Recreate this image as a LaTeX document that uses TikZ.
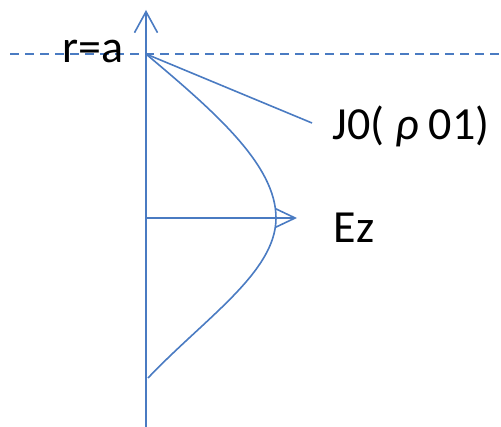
\documentclass[tikz,border=0pt]{standalone}
\usepackage{fontspec}
\setmainfont{Carlito}
\usetikzlibrary{arrows.meta}
\definecolor{axcol}{HTML}{4A7BC2}

\begin{document}
\begin{tikzpicture}[x=1pt, y=-1pt, line width=1.6pt,
  lbl/.style={font=\fontsize{46}{54}\selectfont, anchor=base west, inner sep=0pt, text=black}]
\useasboundingbox (0,0) rectangle (501,427);
% ---- axis, boundary and labels
\coordinate (bot) at (146,427);
\coordinate (tip) at (146,10);
\coordinate (top) at (146,54);
\coordinate (mid) at (146,218);
\coordinate (dl) at (10,54);
\coordinate (dr) at (501,54);
\draw[axcol, -{Straight Barb[length=21pt, width=23pt, line width=1.6pt]}] (bot) -- (tip);
\draw[axcol, dash pattern=on 9pt off 6pt] (dl) -- (dr);
\node[lbl] (ra) at (62,63) {r=a};
\node[lbl] (jz) at (332,140) {J0( \textit{ρ} 01)};
\node[lbl] (ez) at (333,243) {Ez};
\coordinate (jend) at (312,123);
\draw[axcol] (top) -- (jend);
% ---- field profile
\draw[axcol] (top) .. controls (215,112) and (276,165) .. (276,218)
  .. controls (276,272) and (205,318) .. (148,378);
\draw[axcol, -{Straight Barb[length=20pt, width=19pt, line width=1.6pt]}] (mid) -- (297,218);
\end{tikzpicture}
\end{document}
